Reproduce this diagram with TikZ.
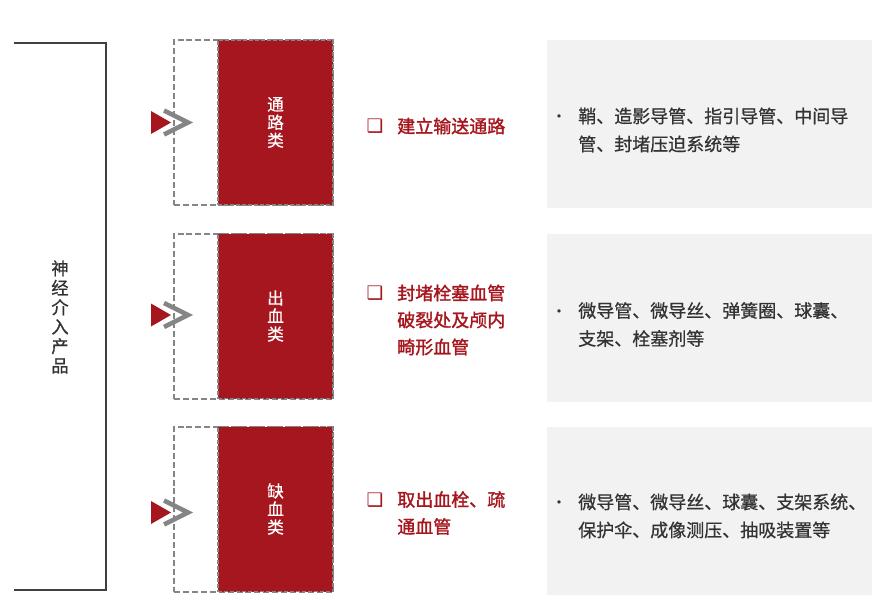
\documentclass[tikz,border=0pt]{standalone}
\usepackage{fontspec}
\setmainfont{Liberation Sans}
\newfontfamily\cjk{Noto Sans CJK SC}
\newfontfamily\cjkmid[FakeBold=1.6]{Noto Sans CJK SC}
\newfontfamily\cjksemi[FakeBold=0.7]{Noto Sans CJK SC}
\newfontfamily\symfont{DejaVu Sans}
\usetikzlibrary{positioning}
\definecolor{deepred}{HTML}{A6161E}
\definecolor{dashgray}{HTML}{858585}
\definecolor{panelgray}{HTML}{F2F2F2}
\definecolor{textgray}{HTML}{333333}
\definecolor{linegray}{HTML}{404040}

\tikzset{
  outerbox/.style={draw=dashgray, line width=1.5pt, dash pattern={on 4.5pt off 2.2pt}, minimum width=119.25pt, minimum height=123.75pt, inner sep=0pt},
  redbox/.style={fill=deepred, draw=dashgray, line width=1pt, dash pattern={on 3pt off 1.5pt}, minimum width=86.25pt, minimum height=123.75pt, inner sep=0pt, text=white, font=\cjksemi\fontsize{12.5}{13.5}\selectfont, align=center},
  panel/.style={fill=panelgray, minimum width=243.75pt, minimum height=126pt, inner sep=0pt},
  goal/.style={anchor=west, inner sep=0pt, text=deepred, align=left, font=\cjkmid\fontsize{13.5}{20.25}\selectfont},
  detail/.style={anchor=west, inner sep=0pt, text=textgray, align=left, font=\cjksemi\fontsize{13.5}{21}\selectfont},
  sqmark/.style={text=deepred, font=\symfont\fontsize{14}{14}\selectfont},
  dotmark/.style={text=textgray, font=\cjk\fontsize{12}{12}\selectfont},
}

\begin{document}
\begin{tikzpicture}[x=0.75pt,y=0.75pt,yscale=-1,xscale=1]
    \useasboundingbox (0,0) rectangle (880,595);

    % bracket and title
    \draw [linegray, line width=1.5pt] (14,43) -- (106,43) -- (106,590) -- (14,590);
    \node (title) [text=textgray, font=\cjksemi\fontsize{13}{14.6}\selectfont, align=center] at (60,317) {神\\经\\介\\入\\产\\品};

    % row 1
    \node (out1) [outerbox] at (253.5,122.5) {};
    \node (cat1) [redbox] at (275.5,122.5) {通\\路\\类};
    \fill [deepred] (151,111) -- (171,122.5) -- (151,134) -- cycle;
    \draw [dashgray, line width=3.5pt] (164,110.5) -- (188,122.5) -- (164,134.5);
    \node (box1) [sqmark] at (375,126) {❑};
    \node (goal1) [goal] at (397,126) {建立输送通路};
    \node (pan1) [panel] at (709.5,124) {};
    \node (dot1) [dotmark] at (559,119) {•};
    \node (det1) [detail] at (578,130) {鞘、造影导管、指引导管、中间导\\管、封堵压迫系统等};

    % row 2
    \node (out2) [outerbox] at (253.5,316) {};
    \node (cat2) [redbox] at (275.5,316) {出\\血\\类};
    \fill [deepred] (151,303.5) -- (171,315) -- (151,326.5) -- cycle;
    \draw [dashgray, line width=3.5pt] (164,303) -- (188,315) -- (164,327);
    \node (box2) [sqmark] at (375,293) {❑};
    \node (goal2) [goal] at (397,320) {封堵栓塞血管\\破裂处及颅内\\畸形血管};
    \node (pan2) [panel] at (709.5,317.5) {};
    \node (dot2) [dotmark] at (559,314) {•};
    \node (det2) [detail] at (578,324.5) {微导管、微导丝、弹簧圈、球囊、\\支架、栓塞剂等};

    % row 3
    \node (out3) [outerbox] at (253.5,509) {};
    \node (cat3) [redbox] at (275.5,509) {缺\\血\\类};
    \fill [deepred] (151,501) -- (171,512.5) -- (151,524) -- cycle;
    \draw [dashgray, line width=3.5pt] (164,500.5) -- (188,512.5) -- (164,524.5);
    \node (box3) [sqmark] at (375,500) {❑};
    \node (goal3) [goal] at (397,513) {取出血栓、疏\\通血管};
    \node (pan3) [panel] at (709.5,510.5) {};
    \node (dot3) [dotmark] at (559,505) {•};
    \node (det3) [detail] at (578,516) {微导管、微导丝、球囊、支架系统、\\保护伞、成像测压、抽吸装置等};

\end{tikzpicture}
\end{document}
